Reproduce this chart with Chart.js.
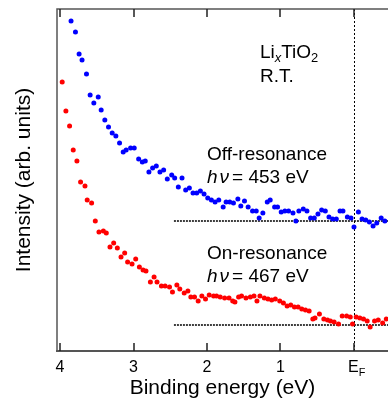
<!DOCTYPE html>
<html>
<head>
<meta charset="utf-8">
<script src="https://cdn.jsdelivr.net/npm/chart.js@4.4.0/dist/chart.umd.min.js"></script>
<style>
html, body { margin: 0; padding: 0; background: #fff; }
</style>
</head>
<body>
<canvas id="chart" width="388" height="400"></canvas>
<script>
// off-resonance (hv = 453 eV), binding energy in eV, intensity arb. units
const offEnergy = [3.85,3.79,3.74,3.70,3.64,3.59,3.54,3.48,3.44,3.39,3.34,3.29,3.24,3.19,3.14,3.10,3.04,2.99,2.93,2.88,
  2.84,2.79,2.74,2.69,2.64,2.59,2.54,2.48,2.44,2.39,2.34,2.29,2.24,2.19,2.14,2.09,2.04,1.99,1.94,1.89,
  1.84,1.78,1.74,1.69,1.64,1.58,1.54,1.49,1.44,1.38,1.33,1.29,1.24,1.18,1.14,1.08,1.04,0.99,0.94,0.89,
  0.83,0.79,0.75,0.69,0.64,0.59,0.54,0.49,0.44,0.39,0.34,0.29,0.24,0.19,0.15,0.09,0.04,0.00,-0.06,-0.11,
  -0.16,-0.21,-0.26,-0.31,-0.37,-0.42]
const offIntensity = [330,319,297,291,277,256,248,254,241,231,224,218,215,208,199,201,203,203,192,189,
  190,179,183,185,179,181,172,176,173,164,173,161,163,158,158,160,157,153,151,149,
  151,144,149,149,148,152,145,150,144,140,140,133,138,149,151,144,144,139,140,140,
  138,130,140,142,140,133,133,137,141,140,134,132,132,140,140,134,133,124,139,132,
  131,129,125,128,133,130]

// on-resonance (hv = 467 eV)
const onEnergy = [3.97,3.92,3.87,3.82,3.77,3.72,3.66,3.63,3.57,3.52,3.47,3.41,3.37,3.32,3.27,3.22,3.17,3.12,3.08,3.02,
  2.97,2.92,2.87,2.83,2.77,2.72,2.68,2.62,2.57,2.51,2.47,2.41,2.37,2.31,2.26,2.22,2.17,2.12,2.07,2.02,
  1.97,1.91,1.87,1.82,1.76,1.70,1.65,1.62,1.57,1.53,1.47,1.41,1.36,1.32,1.28,1.22,1.17,1.12,1.07,1.01,
  0.96,0.91,0.86,0.81,0.76,0.71,0.66,0.61,0.56,0.53,0.47,0.41,0.36,0.32,0.27,0.21,0.16,0.10,0.05,0.02,
  -0.03,-0.08,-0.13,-0.18,-0.22,-0.28,-0.33,-0.39,-0.44]
const onIntensity = [269,240,225,201,190,169,165,151,148,130,119,120,118,104,108,103,94,98,89,87,
  92,84,81,80,69,74,69,65,65,64,59,66,62,58,60,54,54,50,55,52,
  56,55,55,54,53,53,50,49,54,55,53,54,55,50,55,53,52,51,52,50,
  48,45,46,44,44,42,41,40,32,33,37,32,31,30,29,27,35,35,34,27,
  34,33,32,30,24,30,31,28,32]

// background levels
const offBaseline = 130
const onBaseline = 26
const baselineFrom = 2.45

const tickValues = [4, 3, 2, 1, 0]
const tickLabels = ['4', '3', '2', '1', 'E_F']

const xRange = [-0.463, 4.041]
const yRange = [0, 342]

const FONT = "'Liberation Sans', Arial, sans-serif"
Chart.defaults.font.family = FONT
Chart.defaults.color = '#000'

function toPoints(xs, ys) {
  return xs.map((v, i) => ({x: v, y: ys[i]}))
}

// draw a run of text pieces, some italic / subscript
function drawRich(ctx, x, y, parts, size) {
  let cx = x
  parts.forEach(p => {
    const s = p.sub ? size * 0.68 : size
    ctx.font = (p.italic ? 'italic ' : '') + s + 'px ' + FONT
    ctx.fillText(p.t, cx, y + (p.sub ? size * 0.22 : 0))
    cx += ctx.measureText(p.t).width + (p.gap || 0)
  })
}

const notes = [
  {x: 1.28, y: 293, parts: [{t: 'Li'}, {t: 'x', italic: true, sub: true}, {t: 'TiO'}, {t: '2', sub: true}]},
  {x: 1.28, y: 269, parts: [{t: 'R.T.'}]},
  {x: 2.0, y: 191, parts: [{t: 'Off-resonance'}]},
  {x: 2.0, y: 168, parts: [{t: 'h', italic: true, gap: 2}, {t: 'ν', italic: true, gap: 3}, {t: '= 453 eV'}]},
  {x: 2.0, y: 92, parts: [{t: 'On-resonance'}]},
  {x: 2.0, y: 69, parts: [{t: 'h', italic: true, gap: 2}, {t: 'ν', italic: true, gap: 3}, {t: '= 467 eV'}]}
]

const decor = {
  id: 'decor',
  beforeDatasetsDraw(chart) {
    const {ctx, chartArea: a, scales: {x}} = chart
    const ef = Math.round(x.getPixelForValue(0)) + 0.5
    ctx.save()
    ctx.strokeStyle = '#000'
    ctx.lineWidth = 1
    ctx.setLineDash([2, 2])
    ctx.beginPath()
    ctx.moveTo(ef, a.top)
    ctx.lineTo(ef, a.bottom)
    ctx.stroke()
    ctx.restore()
  },
  afterDraw(chart) {
    const {ctx, chartArea: a, scales: {x, y}} = chart
    ctx.save()
    // frame
    ctx.strokeStyle = '#555'
    ctx.lineWidth = 1.5
    ctx.beginPath()
    ctx.moveTo(a.left, a.bottom)
    ctx.lineTo(a.left, a.top)
    ctx.lineTo(a.right, a.top)
    ctx.stroke()
    ctx.lineWidth = 2
    ctx.beginPath()
    ctx.moveTo(a.left - 1, a.bottom)
    ctx.lineTo(a.right, a.bottom)
    ctx.stroke()

    // inward ticks top and bottom
    ctx.strokeStyle = '#222'
    ctx.lineWidth = 1.5
    tickValues.forEach(v => {
      const px = Math.round(x.getPixelForValue(v))
      ctx.beginPath()
      ctx.moveTo(px, a.bottom)
      ctx.lineTo(px, a.bottom - 8)
      ctx.moveTo(px, a.top)
      ctx.lineTo(px, a.top + 8)
      ctx.stroke()
    })

    // tick labels
    ctx.fillStyle = '#000'
    ctx.textBaseline = 'alphabetic'
    tickValues.forEach((v, i) => {
      const px = x.getPixelForValue(v)
      const lab = tickLabels[i]
      if (lab === 'E_F') {
        ctx.textAlign = 'left'
        drawRich(ctx, px - 6, a.bottom + 21, [{t: 'E'}, {t: 'F', sub: true}], 16)
      } else {
        ctx.textAlign = 'center'
        ctx.font = '16px ' + FONT
        ctx.fillText(lab, px, a.bottom + 21)
      }
    })

    // notes
    ctx.textAlign = 'left'
    notes.forEach(n => {
      drawRich(ctx, x.getPixelForValue(n.x), y.getPixelForValue(n.y), n.parts, 19)
    })
    ctx.restore()
  }
}

const chart = new Chart(document.getElementById('chart'), {
  type: 'scatter',
  data: {
    datasets: [
      {
        label: 'Off-resonance',
        data: toPoints(offEnergy, offIntensity),
        backgroundColor: 'rgb(0,0,255)',
        borderWidth: 0,
        pointRadius: 2.5,
        order: 0
      },
      {
        label: 'On-resonance',
        data: toPoints(onEnergy, onIntensity),
        backgroundColor: 'rgb(255,0,0)',
        borderWidth: 0,
        pointRadius: 2.5,
        order: 0
      },
      {
        label: 'off bg',
        data: [{x: baselineFrom, y: offBaseline}, {x: xRange[0], y: offBaseline}],
        showLine: true,
        borderColor: '#000',
        borderWidth: 1.5,
        borderDash: [2, 1],
        pointRadius: 0,
        order: 1
      },
      {
        label: 'on bg',
        data: [{x: baselineFrom, y: onBaseline}, {x: xRange[0], y: onBaseline}],
        showLine: true,
        borderColor: '#000',
        borderWidth: 1.5,
        borderDash: [2, 1],
        pointRadius: 0,
        order: 1
      }
    ]
  },
  options: {
    responsive: false,
    animation: false,
    devicePixelRatio: 1,
    layout: {autoPadding: false, padding: {top: 9, right: 0, bottom: 0, left: 0}},
    plugins: {legend: {display: false}, tooltip: {enabled: false}},
    scales: {
      x: {
        type: 'linear',
        reverse: true,
        min: xRange[0],
        max: xRange[1],
        grid: {display: false},
        border: {display: false},
        ticks: {display: false},
        title: {display: true, text: 'Binding energy (eV)', font: {size: 21}, padding: {top: 0, bottom: -1}},
        afterFit: s => { s.height = 49 }
      },
      y: {
        min: yRange[0],
        max: yRange[1],
        grid: {display: false},
        border: {display: false},
        ticks: {display: false},
        title: {display: true, text: 'Intensity (arb. units)', font: {size: 21}, padding: {top: 12, bottom: 0}},
        afterFit: s => { s.width = 57 }
      }
    }
  },
  plugins: [decor]
})
</script>
</body>
</html>
